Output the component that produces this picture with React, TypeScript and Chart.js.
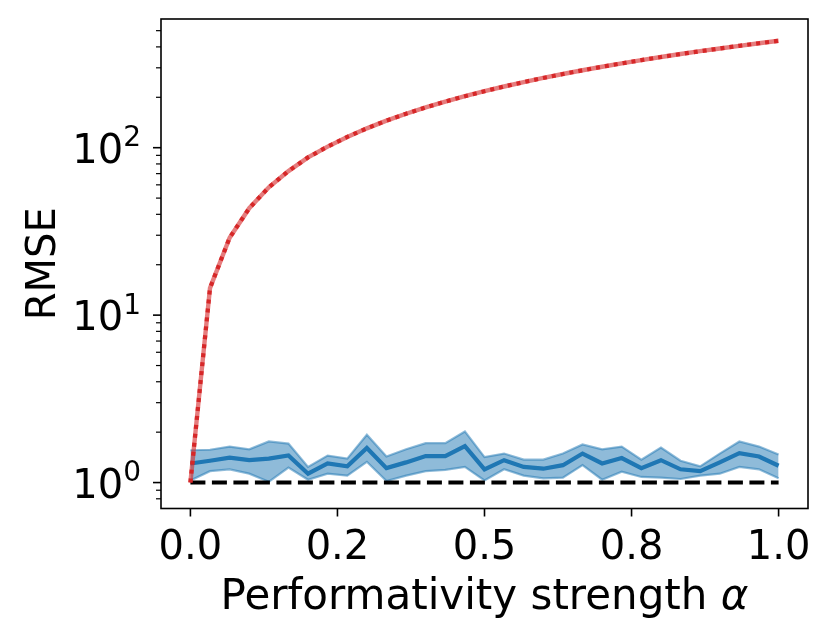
import { useEffect, useRef } from "react"
import { Chart, registerables } from "chart.js"

Chart.register(...registerables)

// alpha grid (x)
const alphas = [
  0, 0.0333, 0.0667, 0.1, 0.1333, 0.1667, 0.2, 0.2333, 0.2667, 0.3, 0.3333,
  0.3667, 0.4, 0.4333, 0.4667, 0.5, 0.5333, 0.5667, 0.6, 0.6333, 0.6667, 0.7,
  0.7333, 0.7667, 0.8, 0.8333, 0.8667, 0.9, 0.9333, 0.9667, 1.0,
]

// red curve (naive baseline)
const naiveRmse = [
  1.0, 14.5, 29.0, 43.5, 58.0, 72.5, 87.5, 101.5, 116.0, 130.5, 145.0, 159.5,
  174.0, 188.5, 203.0, 217.5, 232.0, 246.5, 261.0, 275.5, 290.0, 304.5, 319.0,
  333.5, 348.0, 362.5, 377.0, 391.5, 406.0, 420.5, 435.0,
]

// blue curve: mean and band
const meanRmse = [
  1.3, 1.35, 1.41, 1.36, 1.39, 1.45, 1.13, 1.3, 1.25, 1.61, 1.22, 1.32, 1.44,
  1.44, 1.65, 1.2, 1.36, 1.24, 1.21, 1.27, 1.49, 1.3, 1.4, 1.22, 1.36, 1.2,
  1.17, 1.32, 1.5, 1.43, 1.26,
]
const upperRmse = [
  1.56, 1.57, 1.64, 1.58, 1.76, 1.71, 1.24, 1.45, 1.39, 1.93, 1.43, 1.58, 1.72,
  1.72, 2.02, 1.42, 1.49, 1.37, 1.37, 1.49, 1.69, 1.58, 1.64, 1.37, 1.62, 1.35,
  1.25, 1.49, 1.76, 1.64, 1.47,
]
const lowerRmse = [
  1.03, 1.17, 1.2, 1.13, 1.01, 1.23, 1.04, 1.13, 1.1, 1.33, 1.02, 1.1, 1.17,
  1.19, 1.24, 1.03, 1.2, 1.1, 1.06, 1.07, 1.27, 1.04, 1.16, 1.08, 1.07, 1.05,
  1.1, 1.13, 1.24, 1.2, 1.06,
]

// dashed reference at RMSE = 1
const refAlphas = [0, 1]
const refRmse = [1, 1]

const xTicks = [0, 0.25, 0.5, 0.75, 1.0]
const xTickLabels = ["0.0", "0.2", "0.5", "0.8", "1.0"]
const yMajorTicks = [1, 10, 100]
const yTickExponents = ["0", "1", "2"]
const yMinorTicks = [
  0.8, 0.9, 2, 3, 4, 5, 6, 7, 8, 9, 20, 30, 40, 50, 60, 70, 80, 90, 200, 300,
  400, 500,
]

const FONT = "'DejaVu Sans', 'Liberation Sans', sans-serif"

const toPoints = (xs: number[], ys: number[]) => xs.map((x, i) => ({ x, y: ys[i] }))

// matplotlib-like frame, ticks and labels
const axesPlugin = {
  id: "mplAxes",
  afterDraw(chart: Chart) {
    const { ctx, chartArea: a } = chart
    const xs = chart.scales.x
    const ys = chart.scales.y
    ctx.save()
    ctx.strokeStyle = "#000"
    ctx.fillStyle = "#000"
    ctx.lineWidth = 1.6
    ctx.strokeRect(a.left, a.top, a.right - a.left, a.bottom - a.top)

    const tick = (x1: number, y1: number, x2: number, y2: number, w: number) => {
      ctx.lineWidth = w
      ctx.beginPath()
      ctx.moveTo(x1, y1)
      ctx.lineTo(x2, y2)
      ctx.stroke()
    }

    ctx.textBaseline = "alphabetic"
    ctx.font = `40px ${FONT}`
    ctx.textAlign = "center"
    xTicks.forEach((v, i) => {
      const px = xs.getPixelForValue(v)
      tick(px, a.bottom, px, a.bottom + 8, 1.6)
      ctx.fillText(xTickLabels[i], px, a.bottom + 50.5)
    })

    yMinorTicks.forEach((v) => {
      const py = ys.getPixelForValue(v)
      tick(a.left - 5, py, a.left, py, 1.2)
    })

    ctx.textAlign = "left"
    yMajorTicks.forEach((v, i) => {
      const py = ys.getPixelForValue(v)
      tick(a.left - 8, py, a.left, py, 1.6)
      const right = a.left - 20
      ctx.font = `28px ${FONT}`
      const supW = ctx.measureText(yTickExponents[i]).width
      ctx.font = `40px ${FONT}`
      const baseW = ctx.measureText("10").width
      const start = right - supW - baseW
      ctx.fillText("10", start, py + 15)
      ctx.font = `28px ${FONT}`
      ctx.fillText(yTickExponents[i], start + baseW, py + 15 - 16.6)
    })

    // x axis title
    const cx = (a.left + a.right) / 2
    const part1 = "Performativity strength "
    ctx.font = `42px ${FONT}`
    const w1 = ctx.measureText(part1).width
    ctx.font = `italic 42px ${FONT}`
    const w2 = ctx.measureText("α").width
    const x0 = cx - (w1 + w2) / 2
    ctx.font = `42px ${FONT}`
    ctx.fillText(part1, x0, a.bottom + 100)
    ctx.font = `italic 42px ${FONT}`
    ctx.fillText("α", x0 + w1, a.bottom + 100)

    // y axis title
    ctx.translate(55, (a.top + a.bottom) / 2)
    ctx.rotate(-Math.PI / 2)
    ctx.textAlign = "center"
    ctx.font = `40px ${FONT}`
    ctx.fillText("RMSE", 0, 0)
    ctx.restore()
  },
}

export default function App() {
  const canvasRef = useRef<HTMLCanvasElement>(null)
  const chartRef = useRef<Chart | null>(null)

  useEffect(() => {
    if (!canvasRef.current) return
    if (chartRef.current) chartRef.current.destroy()

    chartRef.current = new Chart(canvasRef.current, {
      type: "line",
      data: {
        datasets: [
          {
            label: "naive dotted",
            data: toPoints(alphas, naiveRmse),
            borderColor: "#d62728",
            borderWidth: 4.2,
            borderDash: [4, 5],
            pointRadius: 0,
            order: 0,
          },
          {
            label: "naive",
            data: toPoints(alphas, naiveRmse),
            borderColor: "rgba(214, 39, 40, 0.6)",
            borderWidth: 4.4,
            pointRadius: 0,
            order: 1,
          },
          {
            label: "reference",
            data: toPoints(refAlphas, refRmse),
            borderColor: "#000",
            borderWidth: 4,
            borderDash: [15, 6.5],
            pointRadius: 0,
            order: 2,
          },
          {
            label: "mean",
            data: toPoints(alphas, meanRmse),
            borderColor: "#1f77b4",
            borderWidth: 4.2,
            pointRadius: 0,
            order: 3,
          },
          {
            label: "upper",
            data: toPoints(alphas, upperRmse),
            borderColor: "rgba(31, 119, 180, 0.5)",
            backgroundColor: "rgba(31, 119, 180, 0.5)",
            borderWidth: 2.2,
            pointRadius: 0,
            fill: "+1",
            order: 4,
          },
          {
            label: "lower",
            data: toPoints(alphas, lowerRmse),
            borderColor: "rgba(31, 119, 180, 0.5)",
            borderWidth: 2.2,
            pointRadius: 0,
            fill: false,
            order: 5,
          },
        ],
      },
      options: {
        responsive: true,
        maintainAspectRatio: false,
        animation: false,
        events: [],
        layout: {
          padding: { left: 161, right: 23, top: 19, bottom: 131.5 },
        },
        plugins: {
          legend: { display: false },
          tooltip: { enabled: false },
        },
        scales: {
          x: { type: "linear", min: -0.05, max: 1.05, display: false },
          y: { type: "logarithmic", min: 0.73, max: 587, display: false },
        },
      },
      plugins: [axesPlugin],
    })

    return () => {
      if (chartRef.current) {
        chartRef.current.destroy()
        chartRef.current = null
      }
    }
  }, [])

  return (
    <div style={{ position: "absolute", left: 0, top: 0, width: 831, height: 640, background: "#fff" }}>
      <canvas ref={canvasRef}></canvas>
    </div>
  )
}
